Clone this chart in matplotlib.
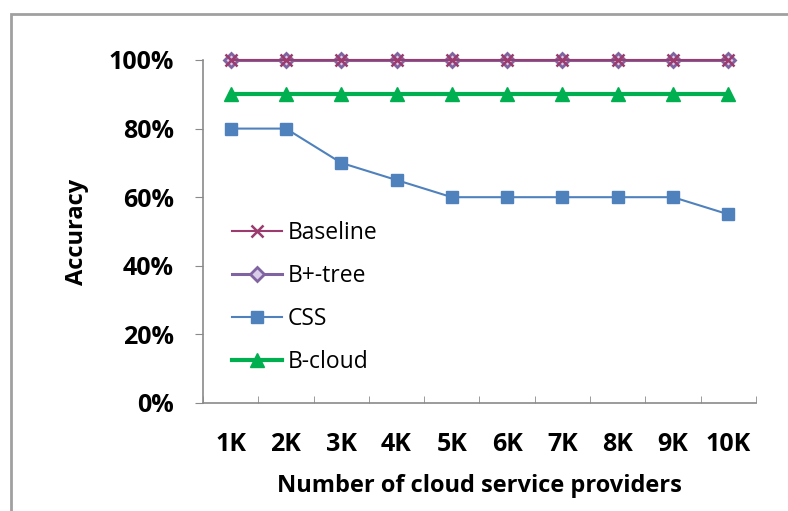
import matplotlib
matplotlib.use("Agg")
import matplotlib.pyplot as plt
from matplotlib.patches import Rectangle
from matplotlib.ticker import FixedLocator, PercentFormatter

categories = ["1K", "2K", "3K", "4K", "5K", "6K", "7K", "8K", "9K", "10K"]
baseline = [100, 100, 100, 100, 100, 100, 100, 100, 100, 100]
bplus_tree = [100, 100, 100, 100, 100, 100, 100, 100, 100, 100]
css = [80, 80, 70, 65, 60, 60, 60, 60, 60, 55]
b_cloud = [90, 90, 90, 90, 90, 90, 90, 90, 90, 90]
y_ticks = [0, 20, 40, 60, 80, 100]

plt.rcParams["font.family"] = ["Open Sans", "DejaVu Sans"]

fig = plt.figure(figsize=(7.88, 5.11), dpi=100)
ax = fig.add_axes([0.2576, 0.2114, 0.7018, 0.6712])

x = list(range(len(categories)))
axis_grey = "#8a8a8a"

ax.plot(x, baseline, color="#9b3b6e", lw=1.5, marker="x", ms=8, mew=1.8,
        label="Baseline", zorder=5, clip_on=False)
ax.plot(x, bplus_tree, color="#8064a2", lw=2.2, marker="D", ms=7,
        mfc="#d9cce8", mec="#8064a2", mew=2, label="B+-tree", zorder=4,
        clip_on=False)
ax.plot(x, css, color="#4f81bd", lw=1.5, marker="s", ms=8,
        label="CSS", zorder=3, clip_on=False)
ax.plot(x, b_cloud, color="#00b050", lw=3, marker="^", ms=10,
        label="B-cloud", zorder=3, clip_on=False)

ax.set_xlim(-0.5, len(categories) - 0.5)
ax.set_ylim(0, 100)
ax.set_xticks(x)
ax.set_xticklabels(categories)
ax.xaxis.set_minor_locator(FixedLocator([i - 0.5 for i in range(len(categories) + 1)]))
ax.tick_params(axis="x", which="major", length=0, pad=21, labelsize=18)
ax.tick_params(axis="x", which="minor", direction="in", length=5,
               color=axis_grey)
ax.set_yticks(y_ticks)
ax.yaxis.set_major_formatter(PercentFormatter(decimals=0))
ax.tick_params(axis="y", direction="out", length=6, color=axis_grey,
               pad=15, labelsize=18)
for lab in ax.get_xticklabels() + ax.get_yticklabels():
    lab.set_fontweight("bold")

for side in ("top", "right"):
    ax.spines[side].set_visible(False)
for side in ("left", "bottom"):
    ax.spines[side].set_color(axis_grey)
    ax.spines[side].set_linewidth(1.2)

ax.set_xlabel("Number of cloud service providers", fontsize=17,
              fontweight="bold", labelpad=12)
ax.set_ylabel("Accuracy", fontsize=17, fontweight="bold", labelpad=14)

leg = ax.legend(loc="upper left", bbox_to_anchor=(0.035, 0.558), frameon=False,
                fontsize=16.5, handlelength=2.2, handletextpad=0.25,
                labelspacing=0.83, borderaxespad=0)

fig.patches.append(Rectangle((11 / 788, -0.05), 1.2, 1 - 14 / 511 + 0.05,
                             transform=fig.transFigure, fill=False,
                             edgecolor="#a0a0a0", lw=2))

fig.savefig("out.png", dpi=100)
